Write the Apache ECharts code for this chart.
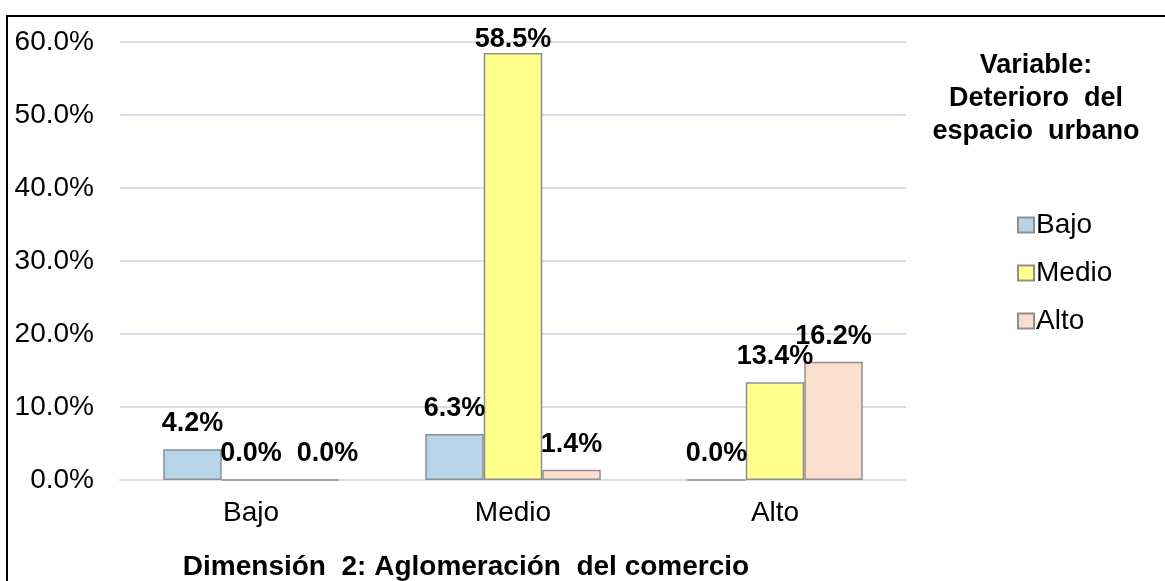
<!DOCTYPE html>
<html>
<head>
<meta charset="utf-8">
<script src="https://cdn.jsdelivr.net/npm/echarts@6/dist/echarts.min.js"></script>
<style>
  html, body { margin: 0; padding: 0; background: #fff; }
  #chart { width: 1165px; height: 581px; }
</style>
</head>
<body>
<div id="chart"></div>
<script>
var categories = ['Bajo', 'Medio', 'Alto'];
var seriesNames = ['Bajo', 'Medio', 'Alto'];
var bajoVals = [4.2, 6.3, 0.0];
var medioVals = [0.0, 58.5, 13.4];
var altoVals = [0.0, 1.4, 16.2];
var colors = ['#b7d5e9', '#ffff8c', '#fbdecd'];

var chart = echarts.init(document.getElementById('chart'));
var FONT = 'Liberation Sans, Arial';

function barSeries(name, data, color, isLast) {
    return {
        name: name,
        type: 'bar',
        // labels near the top of the axis sit closer to the bar,
        // zero labels of the last series are nudged right so they don't collide
        data: data.map(function (v) {
            if (v > 55) return { value: v, label: { distance: 0 } };
            if (isLast && v === 0) return { value: v, label: { offset: [18, 0] } };
            return v;
        }),
        barGap: '0%',
        barCategoryGap: '33%',
        itemStyle: { color: color, borderColor: '#8f8f8f', borderWidth: 1.5 },
        label: {
            show: true,
            position: 'top',
            distance: 12,
            formatter: function (p) { return p.value.toFixed(1) + '%'; },
            fontFamily: FONT,
            fontWeight: 'bold',
            fontSize: 27,
            color: '#000'
        }
    };
}

var option = {
    animation: false,
    color: colors,
    title: {
        text: 'Variable:\nDeterioro  del\nespacio  urbano',
        left: 1031,
        top: 44,
        textAlign: 'center',
        textStyle: {
            fontFamily: FONT,
            fontWeight: 'bold',
            fontSize: 27,
            lineHeight: 33,
            color: '#000'
        }
    },
    legend: {
        orient: 'vertical',
        left: 1012,
        top: 206,
        icon: 'rect',
        itemWidth: 16,
        itemHeight: 15,
        itemGap: 20,
        data: seriesNames,
        textStyle: {
            fontFamily: FONT,
            fontSize: 28,
            lineHeight: 28,
            color: '#000',
            padding: [0, 0, 0, -3]
        }
    },
    grid: { left: 120, right: 259, top: 42, bottom: 101, outerBoundsMode: 'none', containLabel: false },
    xAxis: {
        type: 'category',
        data: categories,
        name: 'Dimensión  2: Aglomeración  del comercio',
        nameLocation: 'middle',
        nameGap: 73,
        nameTextStyle: {
            fontFamily: FONT,
            fontWeight: 'bold',
            fontSize: 28,
            color: '#000',
            padding: [0, 94, 0, 0]
        },
        axisLine: { lineStyle: { color: '#d9dde9', width: 2 } },
        axisTick: { show: false },
        axisLabel: {
            fontFamily: FONT,
            fontSize: 28,
            color: '#000',
            margin: 19
        }
    },
    yAxis: {
        type: 'value',
        min: 0,
        max: 60,
        interval: 10,
        axisLine: { show: false },
        axisTick: { show: false },
        splitLine: { lineStyle: { color: '#d9dde9', width: 2 } },
        axisLabel: {
            fontFamily: FONT,
            fontSize: 28,
            color: '#000',
            margin: 26,
            formatter: function (v) { return v.toFixed(1) + '%'; }
        }
    },
    graphic: [{
        type: 'rect',
        shape: { x: 7, y: 16, width: 1170, height: 580 },
        style: { fill: 'none', stroke: '#000', lineWidth: 2 },
        silent: true
    }],
    series: [
        barSeries(seriesNames[0], bajoVals, colors[0], false),
        barSeries(seriesNames[1], medioVals, colors[1], false),
        barSeries(seriesNames[2], altoVals, colors[2], true)
    ]
};
chart.setOption(option);
</script>
</body>
</html>
